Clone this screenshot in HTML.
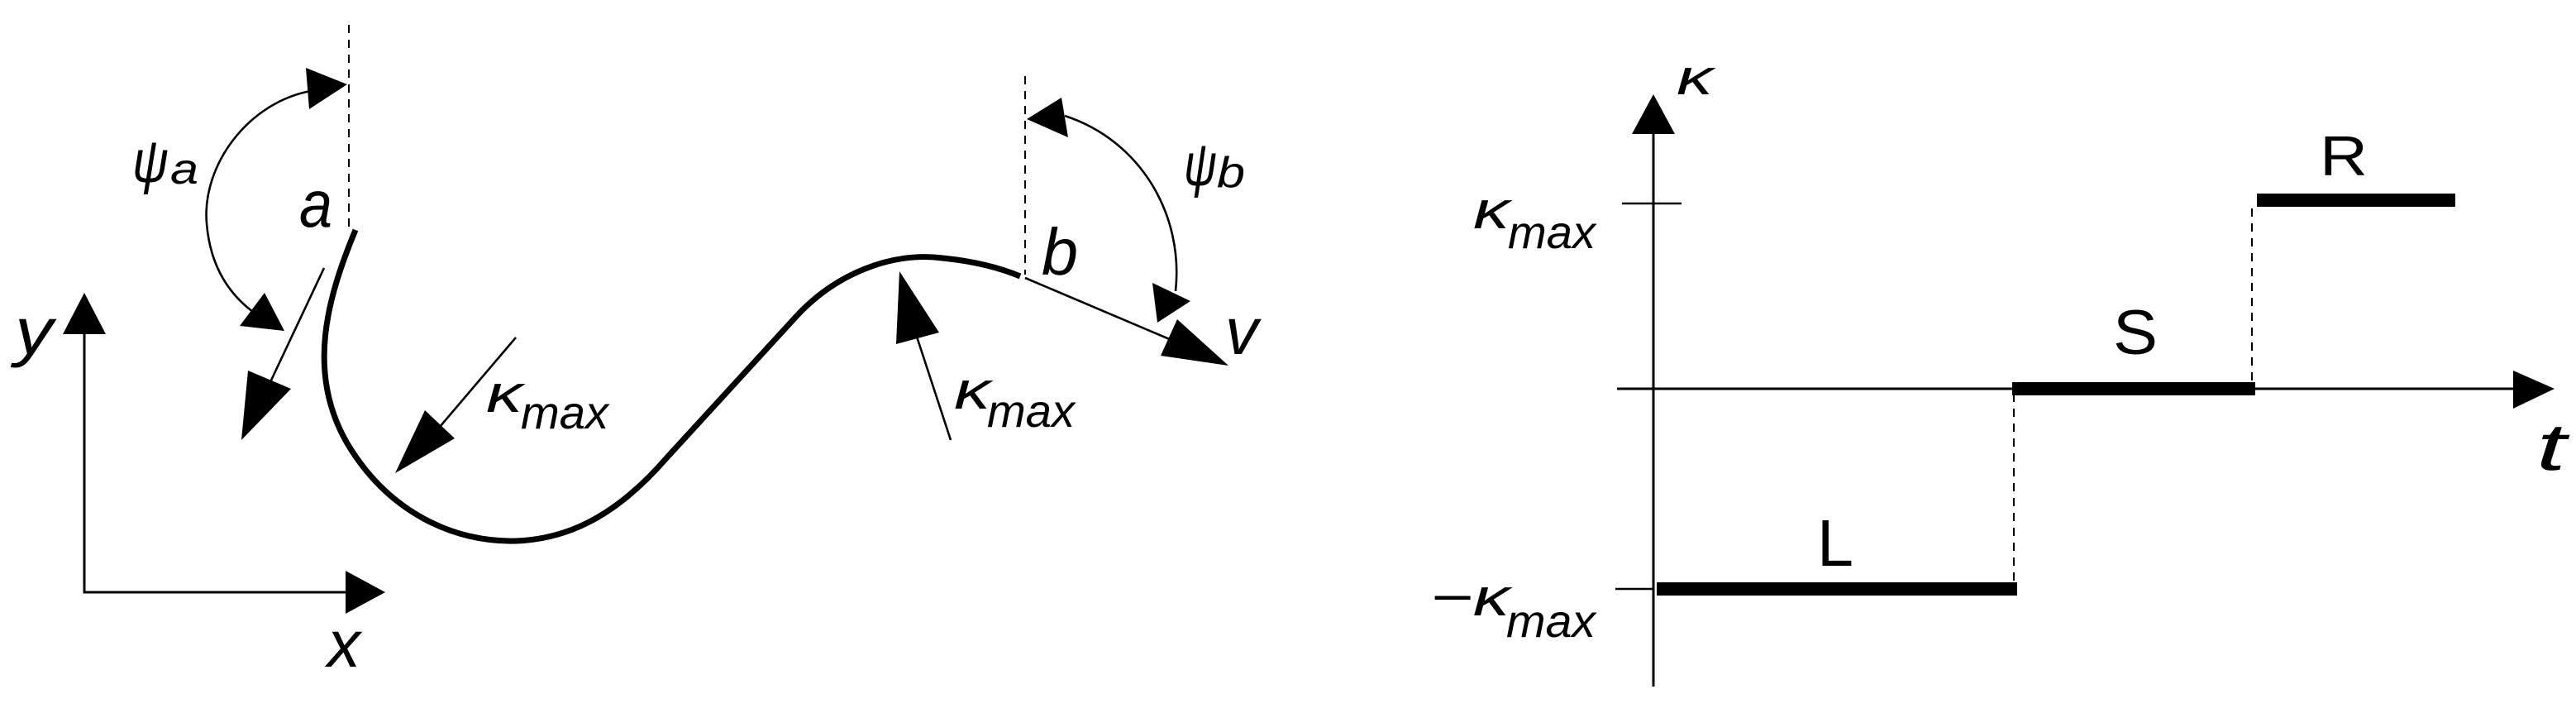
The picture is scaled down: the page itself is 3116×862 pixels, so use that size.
<!DOCTYPE html>
<html><head><meta charset="utf-8"><style>
html,body{margin:0;padding:0;background:#fff;}
svg{display:block;}
text{font-family:"Liberation Sans",sans-serif;font-style:italic;fill:#000;}
</style></head><body>
<svg width="3116" height="862" viewBox="0 0 1558 431" preserveAspectRatio="none" xmlns="http://www.w3.org/2000/svg">
<g fill="none" stroke="#000">
  <line x1="211" y1="15" x2="211" y2="139" stroke-width="1" stroke-dasharray="5,4"/>
  <line x1="620" y1="46" x2="620" y2="166" stroke-width="1" stroke-dasharray="5,4"/>
  <path d="M215,139 C198,180 185,225 210,268 C235,310 275,328 312,327 C340,326 370,315 403,277 L480,193 C505,165 540,152 570,156 C590,158 605,162 617,167" stroke-width="3.5"/>
  <path d="M188,55 C150,62 122,100 125,135 C127,160 138,178 155,190" stroke-width="1.3"/>
  <path d="M644,70 C690,85 716,130 711,176" stroke-width="1.3"/>
  <line x1="196" y1="162" x2="163" y2="232" stroke-width="1.3"/>
  <line x1="312" y1="204" x2="266" y2="258" stroke-width="1.3"/>
  <line x1="575" y1="266" x2="553" y2="199" stroke-width="1.3"/>
  <line x1="620" y1="168" x2="712" y2="207" stroke-width="1.3"/>
  <polyline points="51,195 51,358 212,358" stroke-width="1.5"/>
  <line x1="1000" y1="75" x2="1000" y2="415" stroke-width="1.5"/>
  <line x1="978" y1="235" x2="1522" y2="235" stroke-width="1.5"/>
  <line x1="981" y1="123" x2="1017" y2="123" stroke-width="1.3"/>
  <line x1="977" y1="356" x2="1000" y2="356" stroke-width="1.3"/>
  <line x1="1362" y1="126" x2="1362" y2="235" stroke-width="1" stroke-dasharray="5,4"/>
  <line x1="1218" y1="238" x2="1218" y2="352" stroke-width="1" stroke-dasharray="5,4"/>
  <line x1="1365" y1="121" x2="1485" y2="121" stroke-width="8"/>
  <line x1="1217" y1="235" x2="1364" y2="235" stroke-width="8"/>
  <line x1="1002" y1="356" x2="1220" y2="356" stroke-width="8"/>
</g>
<g fill="#000">
  <polygon points="185,41 210,51 187,66"/>
  <polygon points="160,177 172,200 145,197"/>
  <polygon points="150,224 176,235 146,266"/>
  <polygon points="257,248 275,265 239,286"/>
  <polygon points="542,208 568,201 544,164"/>
  <polygon points="642,59 621,72 646,83"/>
  <polygon points="697,171 720,182 700,195"/>
  <polygon points="712,193 743,221 702,215"/>
  <polygon points="38,202 51,177 64,202"/>
  <polygon points="209,345 233,358 209,371"/>
  <polygon points="987,81 1000,57 1013,81"/>
  <polygon points="1520,224 1545,235 1520,247"/>
</g>
<text x="80" y="110" font-size="36" textLength="22" lengthAdjust="spacingAndGlyphs">ψ</text>
<text x="103" y="111" font-size="26" textLength="17" lengthAdjust="spacingAndGlyphs">a</text>
<text x="181" y="137" font-size="40" textLength="20" lengthAdjust="spacingAndGlyphs">a</text>
<text x="630" y="166" font-size="40" textLength="22" lengthAdjust="spacingAndGlyphs">b</text>
<text x="716" y="112" font-size="36" textLength="20" lengthAdjust="spacingAndGlyphs">ψ</text>
<text x="736" y="113" font-size="26" textLength="17" lengthAdjust="spacingAndGlyphs">b</text>
<text x="741" y="214" font-size="40" textLength="20" lengthAdjust="spacingAndGlyphs">v</text>
<text x="9" y="214" font-size="40" textLength="23" lengthAdjust="spacingAndGlyphs">y</text>
<text x="198" y="403" font-size="40" textLength="20" lengthAdjust="spacingAndGlyphs">x</text>
<text x="294" y="249" font-size="32" textLength="22" lengthAdjust="spacingAndGlyphs">κ</text>
<text x="315" y="259" font-size="28" textLength="53" lengthAdjust="spacingAndGlyphs">max</text>
<text x="577" y="247" font-size="32" textLength="22" lengthAdjust="spacingAndGlyphs">κ</text>
<text x="597" y="258" font-size="28" textLength="53" lengthAdjust="spacingAndGlyphs">max</text>
<text x="1014" y="57" font-size="30" textLength="22" lengthAdjust="spacingAndGlyphs">κ</text>
<text x="891" y="138" font-size="32" textLength="22" lengthAdjust="spacingAndGlyphs">κ</text>
<text x="912" y="150" font-size="28" textLength="53" lengthAdjust="spacingAndGlyphs">max</text>
<text x="865" y="372" font-size="32" textLength="48" lengthAdjust="spacingAndGlyphs">−κ</text>
<text x="911" y="385" font-size="28" textLength="54" lengthAdjust="spacingAndGlyphs">max</text>
<text x="1534" y="284" font-size="40" textLength="18" lengthAdjust="spacingAndGlyphs">t</text>
<text x="1403" y="106" font-size="34" style="font-style:normal" textLength="29" lengthAdjust="spacingAndGlyphs">R</text>
<text x="1278" y="214" font-size="38" style="font-style:normal" textLength="27" lengthAdjust="spacingAndGlyphs">S</text>
<text x="1099" y="342" font-size="40" style="font-style:normal" textLength="22" lengthAdjust="spacingAndGlyphs">L</text>
</svg>
</body></html>
